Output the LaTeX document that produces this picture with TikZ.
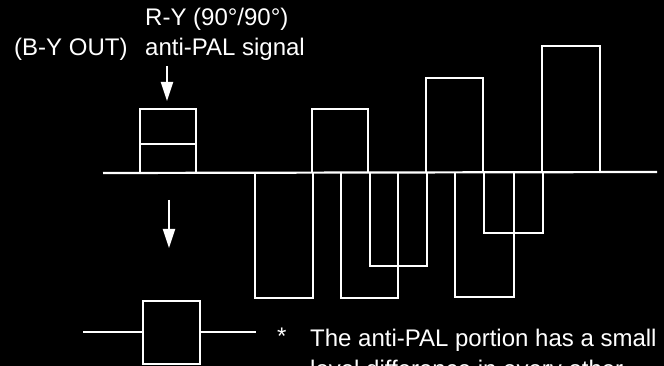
\documentclass[tikz,border=0pt]{standalone}
\usepackage{fontspec}
\setmainfont{Liberation Sans}
\usetikzlibrary{arrows.meta}
\begin{document}
\begin{tikzpicture}[x=1pt,y=-1pt,
  wline/.style={draw=white,line width=2.2pt,line join=miter},
  lbl/.style={text=white,inner sep=0pt,anchor=base west,font=\fontsize{24}{29}\selectfont},
  darrow/.style={draw=white,line width=2pt,-{Triangle[length=19pt,width=12pt]}}]
\useasboundingbox (0,0) rectangle (664,366);
\clip (0,0) rectangle (664,366);
\fill[black] (0,0) rectangle (664,366);
% texts
\node[lbl] (ry) at (145,26) {R-Y (90°/90°)};
\node[lbl] (byout) at (14,56) {(B-Y OUT)};
\node[lbl] (apal) at (145,56) {anti-PAL signal};
\node[lbl] (star) at (277,344) {*};
\node[lbl] (note1) at (310,346) {The anti-PAL portion has a small};
\node[lbl] (note2) at (310,377) {level difference in every other};
% arrows
\coordinate (a1s) at (167,66);
\coordinate (a1e) at (167,101);
\draw[darrow] (a1s) -- (a1e);
\coordinate (a2s) at (169,200);
\coordinate (a2e) at (169,248);
\draw[darrow] (a2s) -- (a2e);
% baseline
\coordinate (bl) at (103,173);
\coordinate (br) at (657,172);
\draw[wline] (bl) -- (br);
% anti-PAL box
\draw[wline] (140,173) -- (140,109) -- (196,109) -- (196,173);
\draw[wline] (140,144) -- (196,144);
% positive pulses
\draw[wline] (312,173) -- (312,109) -- (368,109) -- (368,173);
\draw[wline] (426,173) -- (426,78) -- (483,78) -- (483,173);
\draw[wline] (542,173) -- (542,46) -- (600,46) -- (600,173);
% deep negative pulses
\draw[wline] (255,173) -- (255,298) -- (313,298) -- (313,173);
\draw[wline] (341,173) -- (341,298) -- (398,298) -- (398,173);
\draw[wline] (455,173) -- (455,297) -- (514,297) -- (514,173);
% shallow negative pulses
\draw[wline] (370,173) -- (370,266) -- (427,266) -- (427,173);
\draw[wline] (484,173) -- (484,233) -- (543,233) -- (543,173);
% output box
\node[draw=white,line width=2.2pt,minimum width=57pt,minimum height=63pt,inner sep=0pt,anchor=north west] (obox) at (142,300) {};
\coordinate (ol) at (83,332);
\coordinate (or) at (256,332);
\draw[wline] (ol) -- (obox.west |- ol);
\draw[wline] (obox.east |- or) -- (or);
\end{tikzpicture}
\end{document}
